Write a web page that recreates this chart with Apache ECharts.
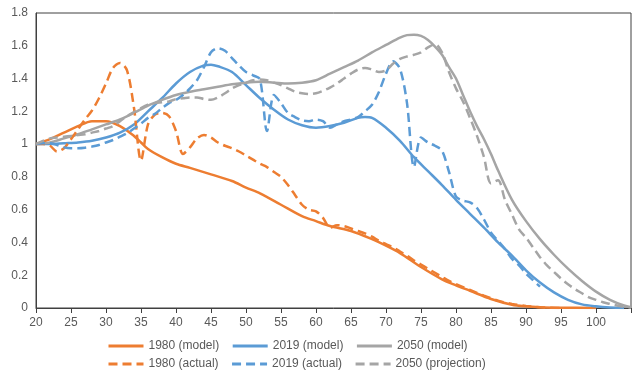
<!DOCTYPE html>
<html style="height: 100%">
<head>
	<meta charset="utf-8">
	<script src="https://cdn.jsdelivr.net/npm/echarts@6/dist/echarts.min.js"></script>
</head>
<body style="height: 100%; margin: 0; background: #fff">
	<div id="container" style="width: 634px; height: 375px"></div>
	<script type="text/javascript">
		// ages and ratios
		let m1980Ages = [20, 22, 24, 26, 28, 30, 32, 34, 35, 36, 38, 40, 42, 45, 48, 50, 52, 55, 58, 60, 62, 65, 68, 70, 72, 75, 78, 80, 82, 85, 88, 90, 92, 95, 100];
		let m1980 = [1.00, 1.03, 1.07, 1.11, 1.14, 1.14, 1.11, 1.05, 1.01, 0.97, 0.92, 0.88, 0.855, 0.815, 0.775, 0.735, 0.70, 0.63, 0.56, 0.53, 0.50, 0.47, 0.42, 0.38, 0.335, 0.25, 0.175, 0.138, 0.105, 0.055, 0.02, 0.01, 0.005, 0.002, 0];

		let m2019Ages = [20, 22, 24, 26, 28, 30, 32, 34, 36, 38, 40, 42, 44, 45, 46, 48, 50, 52, 54, 56, 58, 60, 62, 64, 66, 67, 68, 70, 72, 74, 76, 78, 80, 82, 84, 86, 88, 90, 92, 94, 96, 98, 100, 102, 104];
		let m2019 = [1.00, 1.00, 1.005, 1.01, 1.02, 1.04, 1.07, 1.12, 1.20, 1.28, 1.37, 1.44, 1.48, 1.485, 1.475, 1.44, 1.36, 1.28, 1.21, 1.15, 1.115, 1.10, 1.11, 1.13, 1.16, 1.165, 1.16, 1.10, 1.02, 0.92, 0.835, 0.75, 0.66, 0.575, 0.49, 0.40, 0.32, 0.23, 0.155, 0.095, 0.05, 0.022, 0.01, 0.003, 0];

		let m2050Ages = [20, 22, 24, 26, 28, 30, 32, 34, 36, 38, 40, 42, 44, 46, 48, 50, 52, 54, 56, 58, 60, 62, 64, 66, 68, 70, 72, 73, 74, 75, 76, 77, 78, 79, 80, 81, 82, 83, 84, 85, 86, 88, 90, 92, 94, 96, 98, 100, 102, 104, 105];
		let m2050 = [1.00, 1.01, 1.035, 1.06, 1.09, 1.12, 1.15, 1.19, 1.235, 1.27, 1.30, 1.32, 1.335, 1.35, 1.365, 1.375, 1.38, 1.375, 1.37, 1.375, 1.39, 1.43, 1.47, 1.51, 1.56, 1.605, 1.65, 1.665, 1.668, 1.66, 1.635, 1.595, 1.545, 1.47, 1.40, 1.30, 1.20, 1.11, 1.03, 0.94, 0.84, 0.66, 0.53, 0.42, 0.325, 0.24, 0.165, 0.10, 0.05, 0.015, 0.005];

		let a1980Ages = [20, 21, 22, 23, 24, 25, 26, 27, 28, 29, 30, 31, 32, 33, 34, 35, 36, 37, 38, 39, 40, 41, 42, 43, 44, 45, 46, 47, 48, 49, 50, 51, 52, 53, 54, 55, 56, 57, 58, 59, 60, 61, 62, 63, 64, 65, 66, 67, 68, 69, 70, 71, 72, 73, 74, 75, 76, 77, 78, 79, 80, 82, 84, 86, 88, 90, 92, 95];
		let a1980 = [1.00, 1.00, 0.99, 0.955, 0.975, 1.03, 1.09, 1.15, 1.205, 1.28, 1.37, 1.465, 1.495, 1.45, 1.22, 0.90, 1.12, 1.18, 1.19, 1.17, 1.08, 0.94, 0.98, 1.035, 1.056, 1.04, 1.01, 0.99, 0.975, 0.955, 0.93, 0.905, 0.88, 0.86, 0.83, 0.80, 0.75, 0.69, 0.63, 0.60, 0.59, 0.55, 0.49, 0.505, 0.50, 0.485, 0.47, 0.455, 0.435, 0.41, 0.39, 0.37, 0.345, 0.32, 0.29, 0.265, 0.24, 0.215, 0.19, 0.165, 0.145, 0.11, 0.075, 0.045, 0.025, 0.012, 0.005, 0];

		let a2019Ages = [20, 21, 22, 23, 24, 25, 26, 27, 28, 29, 30, 31, 32, 33, 34, 35, 36, 37, 38, 39, 40, 41, 42, 43, 44, 45, 46, 47, 48, 49, 50, 51, 52, 53, 54, 55, 56, 57, 58, 59, 60, 61, 62, 63, 64, 65, 66, 67, 68, 69, 70, 71, 72, 73, 74, 75, 76, 77, 78, 79, 80, 81, 82, 83, 84, 85, 86, 87, 88, 89, 90, 91, 92];
		let a2019 = [1.00, 1.005, 1.005, 0.995, 0.98, 0.975, 0.975, 0.978, 0.985, 0.995, 1.01, 1.025, 1.045, 1.066, 1.095, 1.125, 1.16, 1.185, 1.22, 1.25, 1.27, 1.30, 1.34, 1.39, 1.47, 1.56, 1.585, 1.57, 1.525, 1.48, 1.44, 1.42, 1.395, 1.08, 1.30, 1.25, 1.19, 1.165, 1.145, 1.14, 1.15, 1.14, 1.10, 1.12, 1.14, 1.15, 1.165, 1.20, 1.24, 1.32, 1.43, 1.505, 1.46, 1.25, 0.86, 1.04, 1.01, 0.99, 0.96, 0.83, 0.68, 0.655, 0.645, 0.61, 0.54, 0.46, 0.41, 0.36, 0.30, 0.26, 0.21, 0.17, 0.13];

		let p2050Ages = [20, 21, 22, 23, 24, 25, 26, 27, 28, 29, 30, 31, 32, 33, 34, 35, 36, 37, 38, 39, 40, 41, 42, 43, 44, 45, 46, 47, 48, 49, 50, 51, 52, 53, 54, 55, 56, 57, 58, 59, 60, 61, 62, 63, 64, 65, 66, 67, 68, 69, 70, 71, 72, 73, 74, 75, 76, 77, 78, 79, 80, 81, 82, 83, 84, 85, 86, 87, 88, 89, 90, 91, 92, 93, 94, 95, 96, 97, 98, 99, 100, 101, 102, 103, 104, 105];
		let p2050 = [1.00, 1.02, 1.035, 1.04, 1.045, 1.05, 1.055, 1.06, 1.07, 1.08, 1.095, 1.11, 1.14, 1.17, 1.195, 1.22, 1.24, 1.25, 1.255, 1.26, 1.275, 1.28, 1.285, 1.285, 1.275, 1.27, 1.285, 1.31, 1.34, 1.36, 1.375, 1.39, 1.395, 1.39, 1.375, 1.36, 1.34, 1.32, 1.31, 1.305, 1.31, 1.325, 1.345, 1.37, 1.40, 1.43, 1.455, 1.465, 1.455, 1.44, 1.45, 1.49, 1.52, 1.535, 1.545, 1.56, 1.59, 1.61, 1.56, 1.44, 1.34, 1.26, 1.16, 1.05, 0.92, 0.76, 0.78, 0.66, 0.57, 0.48, 0.43, 0.37, 0.31, 0.26, 0.22, 0.18, 0.145, 0.115, 0.09, 0.065, 0.05, 0.035, 0.025, 0.015, 0.007, 0.003];

		let orange = '#ED7D31';
		let blue = '#5B9BD5';
		let gray = '#A5A5A5';
		let labelColor = '#595959';

		function pairs(xs, ys) {
			let out = [];
			for (let i = 0; i < xs.length; i++) {
				out.push([xs[i], ys[i]]);
			}
			return out;
		}

		function makeSeries(name, xs, ys, color, dashed) {
			return {
				name: name,
				type: 'line',
				data: pairs(xs, ys),
				symbol: 'none',
				smooth: 0.3,
				animation: false,
				lineStyle: {
					color: color,
					width: 2.5,
					type: dashed ? [9, 5] : 'solid'
				},
				itemStyle: { color: color }
			};
		}

		function makeLegend(names, top) {
			return {
				data: names,
				left: 107,
				top: top,
				padding: 0,
				itemWidth: 35,
				itemHeight: 12,
				itemGap: 12,
				itemStyle: { opacity: 0 },
				lineStyle: { width: 3 },
				textStyle: { color: labelColor, fontSize: 12, fontFamily: 'Liberation Sans', width: 110 }
			};
		}

		let dom = document.getElementById("container");
		let myChart = echarts.init(dom, null, { renderer: 'canvas' });
		let option = {
			backgroundColor: '#fff',
			textStyle: { fontFamily: 'Liberation Sans' },
			grid: {
				left: 36,
				right: 3,
				top: 13,
				bottom: 67,
				show: true,
				borderColor: '#404040',
				borderWidth: 1
			},
			legend: [
				makeLegend(['1980 (model)', '2019 (model)', '2050 (model)'], 340),
				makeLegend(['1980 (actual)', '2019 (actual)', '2050 (projection)'], 358)
			],
			xAxis: {
				type: 'value',
				min: 20,
				max: 105,
				interval: 5,
				axisLine: { lineStyle: { color: '#404040' } },
				axisTick: { show: true, length: 5, lineStyle: { color: '#404040' } },
				splitLine: { show: false },
				axisLabel: {
					color: labelColor,
					fontSize: 12,
					margin: 9,
					formatter: function (v) { return v === 105 ? '' : String(v); }
				}
			},
			yAxis: {
				type: 'value',
				min: 0,
				max: 1.8,
				interval: 0.2,
				axisLine: { show: true, lineStyle: { color: '#404040' } },
				axisTick: { show: false },
				splitLine: { show: false },
				axisLabel: { color: labelColor, fontSize: 12, margin: 8 }
			},
			series: [
				makeSeries('1980 (model)', m1980Ages, m1980, orange, false),
				makeSeries('2019 (model)', m2019Ages, m2019, blue, false),
				makeSeries('2050 (model)', m2050Ages, m2050, gray, false),
				makeSeries('1980 (actual)', a1980Ages, a1980, orange, true),
				makeSeries('2019 (actual)', a2019Ages, a2019, blue, true),
				makeSeries('2050 (projection)', p2050Ages, p2050, gray, true)
			]
		};
		myChart.setOption(option);
	</script>
</body>
</html>
